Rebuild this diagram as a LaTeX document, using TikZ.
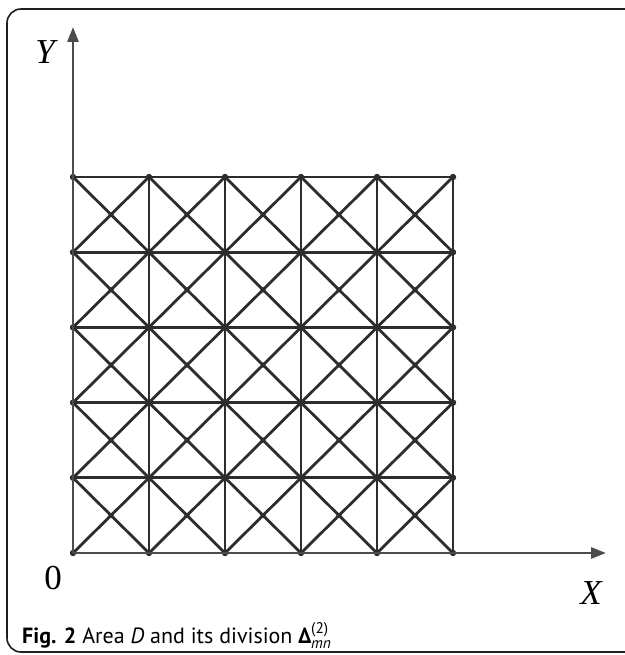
\documentclass[tikz,border=0pt]{standalone}
\usepackage{amsmath}
\usepackage{fontspec}
\setmainfont{Liberation Serif}
\newfontfamily\captionfont{PT Sans}
\usepackage{tikz}
\usetikzlibrary{arrows.meta, calc}
\definecolor{gridgray}{RGB}{45,45,45}
\definecolor{framegray}{RGB}{30,30,30}
\tikzstyle{edge} = [draw=gridgray, line width=2.8pt]
\tikzstyle{axis} = [draw=gridgray!85!white, line width=2.8pt, -{Triangle[length=15pt,width=11pt]}]
\tikzstyle{axislabel} = [inner sep=0pt, font=\fontsize{35}{40}\selectfont]

\begin{document}
\begin{tikzpicture}[x=1pt, y=-1pt]
\useasboundingbox (0,0) rectangle (624,655);

% ===== FRAME =====
\draw[framegray, line width=1.6pt, rounded corners=14pt] (660,9) -- (7,9) -- (7,652) -- (660,652);

% ===== GRID POINTS =====
\foreach \i in {0,...,5}
  \foreach \j in {0,...,5}
    \coordinate (v-\i-\j) at ({73+76*\i},{553-75.2*\j});
\foreach \i in {0,...,4}
  \foreach \j in {0,...,4}
    \coordinate (c-\i-\j) at ({111+76*\i},{515.4-75.2*\j});

% ===== GRID LINES =====
\foreach \k in {0,...,5} {
  \draw[edge] (v-0-\k) -- (v-5-\k);
  \draw[edge] (v-\k-0) -- (v-\k-5);
}
% diagonals through the cell centres
\foreach \i [evaluate=\i as \ii using int(\i+1)] in {0,...,4} {
  \foreach \j [evaluate=\j as \jj using int(\j+1)] in {0,...,4} {
    \draw[edge] (v-\i-\j) -- (c-\i-\j) -- (v-\ii-\jj);
    \draw[edge] (v-\ii-\j) -- (c-\i-\j) -- (v-\i-\jj);
  }
}

% ===== DOTS =====
\foreach \i in {0,...,5}
  \foreach \j in {0,...,5}
    \fill[gridgray] (v-\i-\j) circle (3.2pt);
\foreach \i in {0,...,4}
  \foreach \j in {0,...,4}
    \fill[gridgray] (c-\i-\j) circle (2.6pt);

% ===== AXES =====
\coordinate (ytip) at (73,27);
\coordinate (xtip) at (606,553);
\draw[axis] (v-0-0) -- (ytip);
\draw[axis] (v-0-0) -- (xtip);

\node (ylabel) [axislabel] at (45,52) {\itshape Y};
\node (origin) [axislabel] at (53,578) {0};
\node (xlabel) [axislabel] at (591,593) {\itshape X};

% ===== CAPTION =====
\node (caption) [anchor=base west, inner sep=0pt, font=\captionfont\fontsize{22}{26}\selectfont] at (22,643)
  {\textbf{Fig. 2} Area \textit{D} and its division $\text{\bfseries Δ}^{\text{(2)}}_{\text{\itshape mn}}$};

\end{tikzpicture}
\end{document}
